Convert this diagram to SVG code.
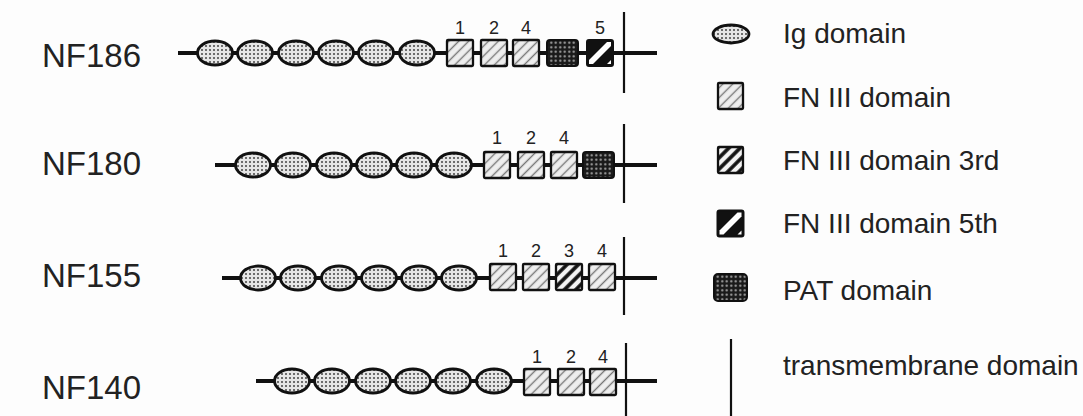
<svg xmlns="http://www.w3.org/2000/svg" width="1083" height="416" viewBox="0 0 1083 416">
<style>
.bb{stroke:#111;stroke-width:4;fill:none}
.tm{stroke:#111;stroke-width:2.2}
.ig{fill:url(#dots);stroke:#111;stroke-width:2.8}
.fn{fill:url(#hatch);stroke:#111;stroke-width:2.3}
.fn3{fill:url(#hatch3);stroke:#111;stroke-width:2.3}
.pat{fill:url(#patdots);stroke:#111;stroke-width:2}
.name{font-family:"Liberation Sans",Arial,sans-serif;font-size:33px;fill:#222}
.num{font-family:"Liberation Sans",Arial,sans-serif;font-size:18px;fill:#222;text-anchor:middle}
.leg{font-family:"Liberation Sans",Arial,sans-serif;font-size:28px;fill:#222}
</style>
<defs>
<pattern id="dots" width="4" height="4" patternUnits="userSpaceOnUse">
<rect width="4" height="4" fill="#e6e6e6"/>
<circle cx="2" cy="2" r="1" fill="#444"/>
</pattern>
<pattern id="hatch" width="7" height="7" patternUnits="userSpaceOnUse" patternTransform="rotate(45)">
<rect width="7" height="7" fill="#eeeeee"/>
<line x1="3.5" y1="0" x2="3.5" y2="7" stroke="#777" stroke-width="1.4"/>
</pattern>
<pattern id="hatch3" width="8" height="8" patternUnits="userSpaceOnUse" patternTransform="rotate(45)">
<rect width="8" height="8" fill="#f4f4f4"/>
<line x1="4" y1="0" x2="4" y2="8" stroke="#111" stroke-width="3.6"/>
</pattern>
<pattern id="patdots" width="4.5" height="4.5" patternUnits="userSpaceOnUse">
<rect width="4.5" height="4.5" fill="#1a1a1a"/>
<circle cx="2.25" cy="2.25" r="1.1" fill="#aaa"/>
</pattern>
<g id="f5">
<rect x="-13" y="-13" width="26" height="26" rx="2" fill="#111" stroke="#111" stroke-width="2"/>
<polygon points="-11,7 7,-11 11,-11 11,-7 -7,11 -11,11" fill="#fff"/>
<polygon points="11,7 11,11 7,11" fill="#fff"/>
</g>
</defs>
<rect width="1083" height="416" fill="#fdfdfd"/>

<g id="connectors">
<line class="bb" x1="178" y1="53" x2="657" y2="53"/>
<line class="tm" x1="624" y1="12" x2="624" y2="93"/>
<line class="bb" x1="215" y1="165" x2="657" y2="165"/>
<line class="tm" x1="624" y1="124" x2="624" y2="203"/>
<line class="bb" x1="222" y1="278" x2="657" y2="278"/>
<line class="tm" x1="624" y1="237" x2="624" y2="315"/>
<line class="bb" x1="256" y1="381" x2="657" y2="381"/>
<line class="tm" x1="626" y1="343" x2="626" y2="416"/>
</g>

<g id="NF186">
<text class="name" x="42" y="67">NF186</text>
<ellipse class="ig" cx="215" cy="53" rx="17.5" ry="12"/>
<ellipse class="ig" cx="255" cy="53" rx="17.5" ry="12"/>
<ellipse class="ig" cx="296" cy="53" rx="17.5" ry="12"/>
<ellipse class="ig" cx="336" cy="53" rx="17.5" ry="12"/>
<ellipse class="ig" cx="376" cy="53" rx="17.5" ry="12"/>
<ellipse class="ig" cx="417" cy="53" rx="17.5" ry="12"/>
<rect class="fn" x="447" y="40" width="26" height="26" rx="1"/>
<rect class="fn" x="481" y="40" width="26" height="26" rx="1"/>
<rect class="fn" x="513" y="40" width="26" height="26" rx="1"/>
<rect class="pat" x="547" y="40" width="31" height="26" rx="3"/>
<use href="#f5" x="600" y="53"/>
<text class="num" x="460" y="34">1</text>
<text class="num" x="494" y="34">2</text>
<text class="num" x="526" y="34">4</text>
<text class="num" x="600" y="34">5</text>
</g>

<g id="NF180">
<text class="name" x="42" y="175">NF180</text>
<ellipse class="ig" cx="253" cy="165" rx="17.5" ry="12"/>
<ellipse class="ig" cx="293" cy="165" rx="17.5" ry="12"/>
<ellipse class="ig" cx="334" cy="165" rx="17.5" ry="12"/>
<ellipse class="ig" cx="374" cy="165" rx="17.5" ry="12"/>
<ellipse class="ig" cx="414" cy="165" rx="17.5" ry="12"/>
<ellipse class="ig" cx="454" cy="165" rx="17.5" ry="12"/>
<rect class="fn" x="484" y="152" width="26" height="26" rx="1"/>
<rect class="fn" x="518" y="152" width="26" height="26" rx="1"/>
<rect class="fn" x="551" y="152" width="26" height="26" rx="1"/>
<rect class="pat" x="583" y="152" width="31" height="26" rx="3"/>
<text class="num" x="497" y="144">1</text>
<text class="num" x="531" y="144">2</text>
<text class="num" x="564" y="144">4</text>
</g>

<g id="NF155">
<text class="name" x="42" y="287">NF155</text>
<ellipse class="ig" cx="258" cy="278" rx="17.5" ry="12"/>
<ellipse class="ig" cx="298" cy="278" rx="17.5" ry="12"/>
<ellipse class="ig" cx="339" cy="278" rx="17.5" ry="12"/>
<ellipse class="ig" cx="379" cy="278" rx="17.5" ry="12"/>
<ellipse class="ig" cx="419" cy="278" rx="17.5" ry="12"/>
<ellipse class="ig" cx="459" cy="278" rx="17.5" ry="12"/>
<rect class="fn" x="490" y="264" width="26" height="26" rx="1"/>
<rect class="fn" x="523" y="264" width="26" height="26" rx="1"/>
<rect class="fn3" x="556" y="264" width="26" height="26" rx="1"/>
<rect class="fn" x="589" y="264" width="26" height="26" rx="1"/>
<text class="num" x="503" y="257">1</text>
<text class="num" x="536" y="257">2</text>
<text class="num" x="569" y="257">3</text>
<text class="num" x="602" y="257">4</text>
</g>

<g id="NF140">
<text class="name" x="42" y="399">NF140</text>
<ellipse class="ig" cx="292" cy="381" rx="17.5" ry="12"/>
<ellipse class="ig" cx="332" cy="381" rx="17.5" ry="12"/>
<ellipse class="ig" cx="373" cy="381" rx="17.5" ry="12"/>
<ellipse class="ig" cx="413" cy="381" rx="17.5" ry="12"/>
<ellipse class="ig" cx="453" cy="381" rx="17.5" ry="12"/>
<ellipse class="ig" cx="494" cy="381" rx="17.5" ry="12"/>
<rect class="fn" x="524" y="369" width="26" height="26" rx="1"/>
<rect class="fn" x="558" y="369" width="26" height="26" rx="1"/>
<rect class="fn" x="590" y="369" width="26" height="26" rx="1"/>
<text class="num" x="537" y="363">1</text>
<text class="num" x="571" y="363">2</text>
<text class="num" x="603" y="363">4</text>
</g>

<g id="legend">
<ellipse class="ig" cx="731" cy="34" rx="18" ry="9"/>
<text class="leg" x="783" y="43">Ig domain</text>
<rect class="fn" x="718" y="83" width="25" height="26" rx="1"/>
<text class="leg" x="783" y="107">FN III domain</text>
<rect class="fn3" x="718" y="147" width="25" height="26" rx="1"/>
<text class="leg" x="783" y="170">FN III domain 3rd</text>
<use href="#f5" x="730.5" y="223.5"/>
<text class="leg" x="783" y="233">FN III domain 5th</text>
<rect class="pat" x="714" y="274" width="33" height="27" rx="4"/>
<text class="leg" x="783" y="300">PAT domain</text>
<line class="tm" x1="731" y1="339" x2="731" y2="416"/>
<text class="leg" x="783" y="375">transmembrane domain</text>
</g>
</svg>
